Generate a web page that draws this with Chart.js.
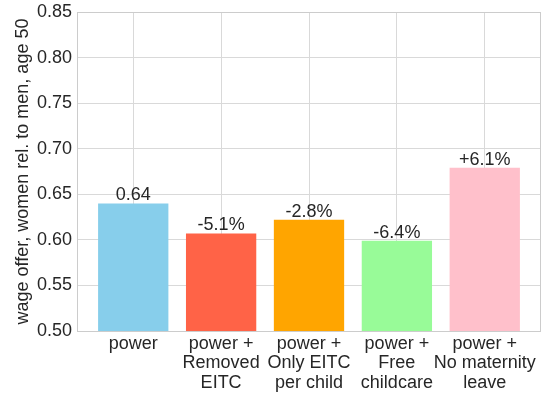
<!DOCTYPE html>
<html>
<head>
<meta charset="utf-8">
<script src="https://cdn.jsdelivr.net/npm/chart.js@4/dist/chart.umd.min.js"></script>
<style>
  html, body { margin: 0; padding: 0; background: #ffffff; }
  #wrap { width: 545px; height: 396px; }
</style>
</head>
<body>
<div id="wrap"><canvas id="c" width="545" height="396"></canvas></div>
<script>
// Scenario names (one array of lines per bar)
const categories = [
  ["power"],
  ["power +", "Removed", "EITC"],
  ["power +", "Only EITC", "per child"],
  ["power +", "Free", "childcare"],
  ["power +", "No maternity", "leave"]
];
// Wage offer of women relative to men at age 50
const wageRatio = [0.640, 0.607, 0.622, 0.599, 0.679];
// Text shown above each bar (baseline level, then change vs. baseline)
const barLabels = ["0.64", "-5.1%", "-2.8%", "-6.4%", "+6.1%"];
const barColors = ["#87CEEB", "#FF6347", "#FFA500", "#98FB98", "#FFC0CB"];
const yTicks = [0.50, 0.55, 0.60, 0.65, 0.70, 0.75, 0.80, 0.85];

const FONT = "'Liberation Sans', Arial, sans-serif";
const FS = 18;
const TEXT = "#262626";
const GRID = "#d9d9d9";

const points = wageRatio.map((v, i) => ({ x: i, y: v }));

const frame = {
  id: "frame",
  afterDraw(chart) {
    const { ctx, chartArea: a } = chart;
    ctx.save();
    ctx.strokeStyle = "#cccccc";
    ctx.lineWidth = 1;
    ctx.strokeRect(Math.round(a.left) + 0.5, Math.round(a.top) + 0.5,
                   Math.round(a.right - a.left) - 1, Math.round(a.bottom - a.top));
    ctx.restore();
  }
};

const valueLabels = {
  id: "valueLabels",
  afterDatasetsDraw(chart) {
    const { ctx } = chart;
    const meta = chart.getDatasetMeta(0);
    ctx.save();
    ctx.font = FS + "px " + FONT;
    ctx.fillStyle = TEXT;
    ctx.textAlign = "center";
    ctx.textBaseline = "alphabetic";
    meta.data.forEach((bar, i) => {
      ctx.fillText(barLabels[i], bar.x, bar.y - 3);
    });
    ctx.restore();
  }
};

new Chart(document.getElementById("c"), {
  type: "bar",
  data: {
    datasets: [{
      data: points,
      backgroundColor: barColors,
      borderWidth: 0,
      categoryPercentage: 1.0,
      barPercentage: 0.8
    }]
  },
  options: {
    responsive: false,
    animation: false,
    events: [],
    layout: { padding: { top: 12, right: 4, left: 0, bottom: 0 } },
    plugins: { legend: { display: false }, tooltip: { enabled: false } },
    scales: {
      x: {
        type: "linear",
        offset: false,
        min: -0.64,
        max: 4.64,
        afterBuildTicks(scale) {
          scale.ticks = categories.map((_, i) => ({ value: i }));
        },
        afterFit(scale) {
          scale.height = 65;
          scale.paddingLeft = 0;
          scale.paddingRight = 0;
        },
        grid: { color: GRID, lineWidth: 1, drawTicks: false, offset: false },
        border: { display: false },
        ticks: {
          padding: 3,
          autoSkip: false,
          maxRotation: 0,
          color: TEXT,
          font: { family: FONT, size: FS, lineHeight: 1.08 },
          callback: (v) => categories[v]
        }
      },
      y: {
        min: 0.5,
        max: 0.85,
        afterBuildTicks(scale) {
          scale.ticks = yTicks.map(v => ({ value: v }));
        },
        afterFit(scale) {
          scale.width = 77;
          scale.paddingTop = 0;
          scale.paddingBottom = 0;
        },
        grid: { color: GRID, lineWidth: 1, drawTicks: false },
        border: { display: false },
        ticks: {
          padding: 5,
          color: TEXT,
          font: { family: FONT, size: FS },
          callback: (v) => v.toFixed(2)
        },
        title: {
          display: true,
          text: "wage offer, women rel. to men, age 50",
          color: TEXT,
          font: { family: FONT, size: FS },
          padding: { top: 12, bottom: 0 }
        }
      }
    }
  },
  plugins: [frame, valueLabels]
});
</script>
</body>
</html>
